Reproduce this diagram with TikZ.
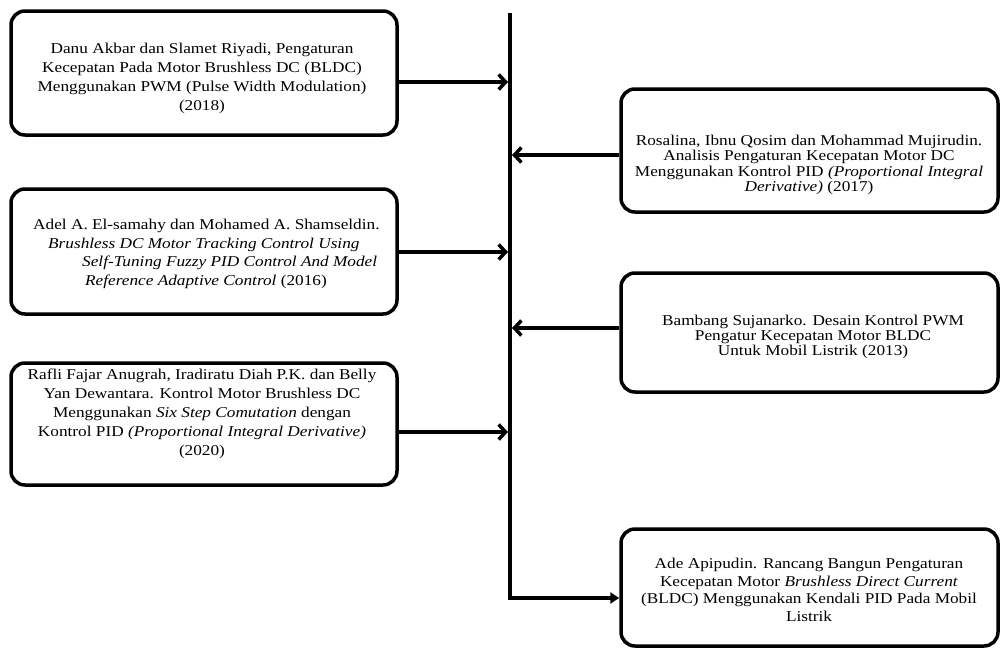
\documentclass[tikz,border=0pt]{standalone}
\usepackage{fontspec}
\setmainfont{Liberation Serif}[FakeStretch=1.15]
\usetikzlibrary{arrows.meta}
\begin{document}
\begin{tikzpicture}[x=1pt,y=-1pt,
  box/.style={draw,line width=3.5pt,rounded corners=14pt,inner sep=0pt},
  lbox/.style={box,minimum width=386pt},
  rbox/.style={box,minimum width=377pt},
  txt/.style={align=center,inner sep=0pt},
  conn/.style={line width=3.5pt,-{Straight Barb[length=7pt,width=15pt]}},
  spine/.style={line width=4pt,-{Triangle[length=9pt,width=11pt]}},
]
\useasboundingbox (0,0) rectangle (1001,651);
% boxes
\node[lbox,minimum height=124pt] (b1) at (204,73) {};
\node[rbox,minimum height=123pt] (b2) at (809.5,150.5) {};
\node[lbox,minimum height=125pt] (b3) at (204,251.5) {};
\node[rbox,minimum height=119pt] (b4) at (809.5,332.5) {};
\node[lbox,minimum height=122pt] (b5) at (204,424) {};
\node[rbox,minimum height=117pt] (b6) at (809.5,587.5) {};
% texts
\node[txt,font=\fontsize{15}{19}\selectfont] (t1) at (202,78.5) {Danu Akbar dan Slamet Riyadi, Pengaturan\\Kecepatan Pada Motor Brushless DC (BLDC)\\Menggunakan PWM (Pulse Width Modulation)\\(2018)};
\node[txt,font=\fontsize{15}{15.5}\selectfont] (t2) at (809,165) {Rosalina, Ibnu Qosim dan Mohammad Mujirudin.\\Analisis Pengaturan Kecepatan Motor DC\\Menggunakan Kontrol PID \textit{(Proportional Integral}\\\textit{Derivative)} (2017)};
\node[txt,align=left,anchor=west,font=\fontsize{15}{18.5}\selectfont] (t3) at (33,254) {Adel A. El-samahy dan Mohamed A. Shamseldin.\\\hspace*{15pt}\textit{Brushless DC Motor Tracking Control Using}\\\hspace*{49pt}\textit{Self-Tuning Fuzzy PID Control And Model}\\\hspace*{52pt}\textit{Reference Adaptive Control} (2016)};
\node[txt,font=\fontsize{15}{15}\selectfont] (t4) at (813,337) {Bambang Sujanarko. Desain Kontrol PWM\\Pengatur Kecepatan Motor BLDC\\Untuk Mobil Listrik (2013)};
\node[txt,font=\fontsize{15}{19}\selectfont] (t5) at (202,414) {Rafli Fajar Anugrah, Iradiratu Diah P.K. dan Belly\\Yan Dewantara. Kontrol Motor Brushless DC\\Menggunakan \textit{Six Step Comutation} dengan\\Kontrol PID \textit{(Proportional Integral Derivative)}\\(2020)};
\node[txt,font=\fontsize{15}{17.5}\selectfont] (t6) at (809,590) {Ade Apipudin. Rancang Bangun Pengaturan\\Kecepatan Motor \textit{Brushless Direct Current}\\(BLDC) Menggunakan Kendali PID Pada Mobil\\Listrik};
% spine
\coordinate (top) at (510,13);
\coordinate (bot) at (510,598);
\draw[spine] (top) -- (bot) -- (b6.west |- bot);
% connectors
\coordinate (j1) at (508,82);
\coordinate (j2) at (512,155);
\coordinate (j3) at (508,252);
\coordinate (j4) at (512,328);
\coordinate (j5) at (508,432);
\draw[conn] (b1.east |- j1) -- (j1);
\draw[conn] (b2.west |- j2) -- (j2);
\draw[conn] (b3.east |- j3) -- (j3);
\draw[conn] (b4.west |- j4) -- (j4);
\draw[conn] (b5.east |- j5) -- (j5);
\end{tikzpicture}
\end{document}
